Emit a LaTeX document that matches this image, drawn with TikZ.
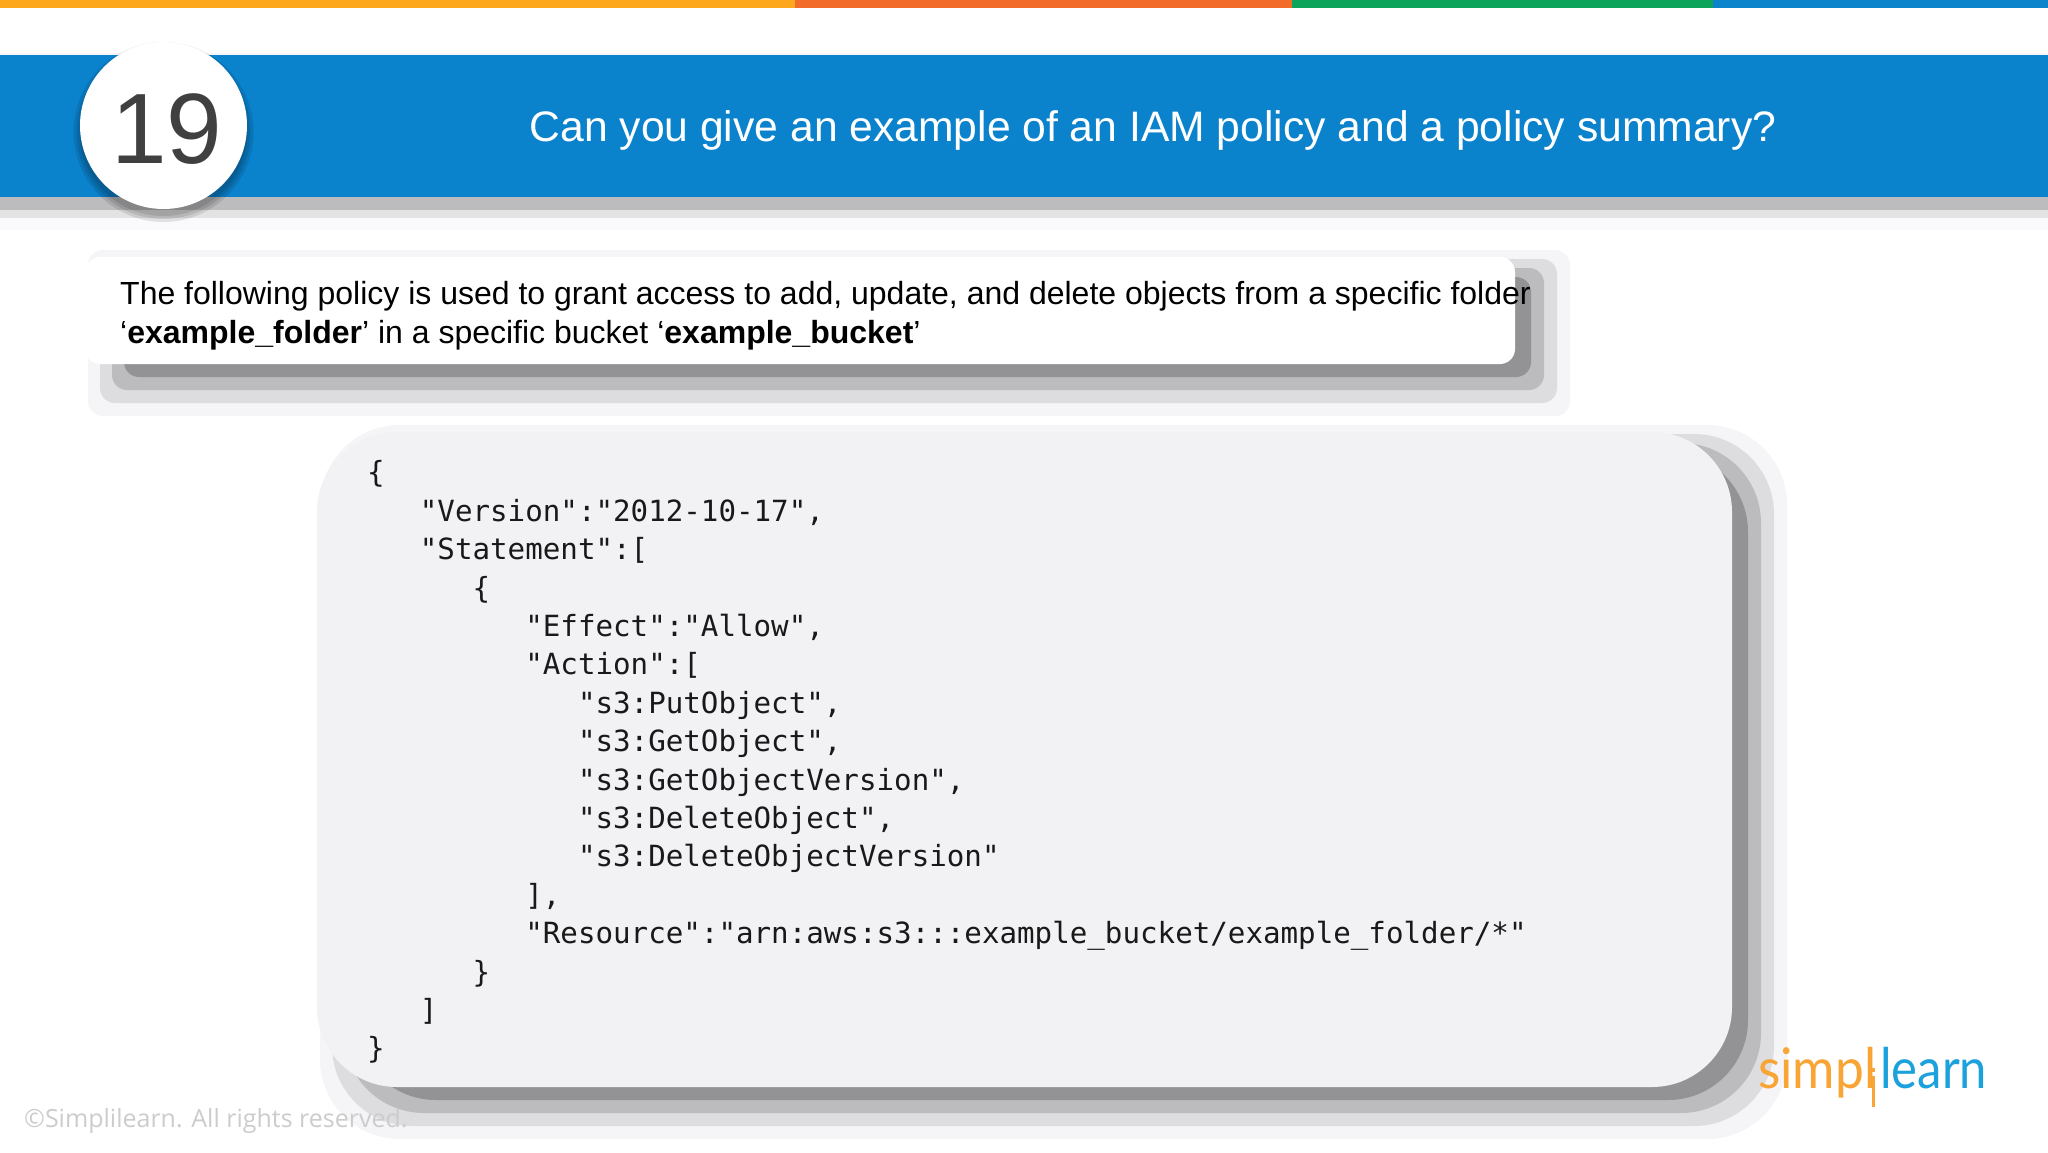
\documentclass[tikz,border=0pt]{standalone}
\usepackage{fontspec}
\setmainfont{Liberation Sans}
\newfontfamily\codefont{DejaVu Sans Mono}
\newfontfamily\footfont{Open Sans}
\newfontfamily\logofontA[FakeStretch=0.92]{Lato}
\newfontfamily\logofontB[FakeStretch=0.875]{Lato}
\definecolor{barOrange}{HTML}{FDA81C}
\definecolor{barRed}{HTML}{F26B28}
\definecolor{barGreen}{HTML}{0CA35A}
\definecolor{barBlue}{HTML}{0C84CC}
\definecolor{headBlue}{HTML}{0B82CC}
\definecolor{panelGray}{HTML}{F2F1F4}
\definecolor{shadeA}{HTML}{939294}
\definecolor{shadeB}{HTML}{BCBBBD}
\definecolor{shadeC}{HTML}{DDDCDE}
\definecolor{shadeD}{HTML}{F5F4F6}
\definecolor{shadeE}{HTML}{FAF9FB}
\definecolor{logoOrange}{HTML}{F9A535}
\definecolor{logoBlue}{HTML}{1BA1DC}
\tikzset{
    headtext/.style={anchor=base, inner sep=0, text=white, font=\fontsize{42.64}{43}\selectfont},
    bodytext/.style={anchor=base west, inner sep=0, text=black, font=\fontsize{32}{38}\selectfont},
    codetext/.style={anchor=north west, inner sep=0, align=left, text=black!90, font=\codefont\fontsize{29.18}{38.4}\selectfont},
    foottext/.style={anchor=base west, inner sep=0, text=black!20, font=\footfont\fontsize{25}{25}\selectfont},
    logotext/.style={anchor=base west, inner sep=0},
}
% soft shadow made of stacked rounded boxes
\newcommand{\stackshadow}[5]{
    \foreach \k/\shade in {4/shadeD, 3/shadeC, 2/shadeB, 1/shadeA}
        \fill[\shade, rounded corners=#5] ({#1 + 51 - 12 * \k}, {#2 + 29 - 9 * \k}) rectangle ({#3 + 13 * \k + 3}, {#4 + 13 * \k});
}
\newcommand{\ind}[1]{\hspace*{#1\dimexpr 52.7pt\relax}}

\begin{document}
\begin{tikzpicture}[x=1pt, y=-1pt]
        \useasboundingbox (0, 0) rectangle (2048, 1152);
        \fill[white] (0, 0) rectangle (2048, 1152);

        \fill[barOrange] (0, 0) rectangle (795, 8);
        \fill[barRed] (795, 0) rectangle (1292, 8);
        \fill[barGreen] (1292, 0) rectangle (1713, 8);
        \fill[barBlue] (1713, 0) rectangle (2048, 8);

        \fill[shadeE] (0, 218) rectangle (2048, 230);
        \fill[shadeC!80] (0, 210) rectangle (2048, 218);
        \fill[shadeB] (0, 197) rectangle (2048, 210);
        \fill[shadeD] (0, 53) rectangle (2048, 55);
        \fill[headBlue] (0, 55) rectangle (2048, 197);

        \foreach \r in {90, 87, 84}
            \fill[black, opacity=0.1] (163.5, 132) circle (\r);
        \fill[white] (163.5, 125.5) circle (83.5);
        \node[anchor=base, inner sep=0, text=black!75, font=\fontsize{100}{100}\selectfont] (number) at (167, 163) {19};
        \node[headtext] (title) at (1153, 141) {Can you give an example of an IAM policy and a policy summary?};

        \stackshadow{85}{257}{1515}{364}{15}
        \fill[white, rounded corners=15] (85, 257) rectangle (1515, 364);
        \node[bodytext] (intro one) at (120, 304) {The following policy is used to grant access to add, update, and delete objects from a specific folder};
        \node[bodytext] (intro two) at (120, 343) {‘\textbf{example\_folder}’ in a specific bucket ‘\textbf{example\_bucket}’};

        \stackshadow{317}{432}{1732}{1087}{80}
        \fill[panelGray, rounded corners=80] (317, 432) rectangle (1732, 1087);
        \node[codetext] (policy) at (367, 460.5) {%
            \{\\
            \ind{1}"Version":"2012-10-17",\\
            \ind{1}"Statement":[\\
            \ind{2}\{\\
            \ind{3}"Effect":"Allow",\\
            \ind{3}"Action":[\\
            \ind{4}"s3:PutObject",\\
            \ind{4}"s3:GetObject",\\
            \ind{4}"s3:GetObjectVersion",\\
            \ind{4}"s3:DeleteObject",\\
            \ind{4}"s3:DeleteObjectVersion"\\
            \ind{3}],\\
            \ind{3}"Resource":"arn:aws:s3:::example\_bucket/example\_folder/*"\\
            \ind{2}\}\\
            \ind{1}]\\
            \}};

        \node[foottext] (rights) at (24, 1127) {©Simplilearn. All rights reserved.};

        \node[logotext, text=logoOrange, font=\logofontA\fontsize{56}{56}\selectfont] (logo simpl) at (1758, 1088) {simpl};
        \fill[logoOrange] (1871.5, 1068) rectangle (1875, 1072);
        \fill[logoOrange] (1871.5, 1076) rectangle (1875, 1107);
        \node[logotext, text=logoBlue, font=\logofontB\fontsize{56}{56}\selectfont] (logo learn) at (1880, 1088) {learn};
    \end{tikzpicture}
\end{document}
